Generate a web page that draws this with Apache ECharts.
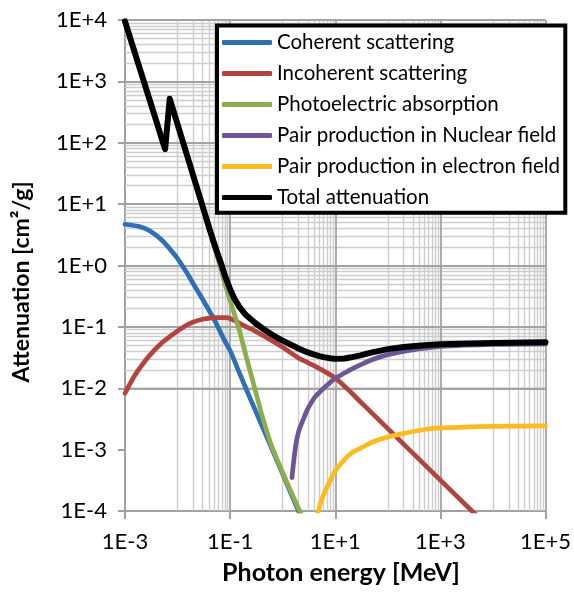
<!DOCTYPE html>
<html>
<head>
<meta charset="utf-8">
<script src="https://cdn.jsdelivr.net/npm/echarts@6/dist/echarts.min.js"></script>
<style>
  html, body { margin: 0; padding: 0; background: #fff; }
  #chart { width: 574px; height: 593px; }
</style>
</head>
<body>
<div id="chart"></div>
<script>
// Mass attenuation coefficients (cm²/g) versus photon energy (MeV), by interaction process.
const coherentE  = [0.001, 0.002, 0.003, 0.005, 0.008, 0.01, 0.015, 0.02, 0.03, 0.05, 0.08, 0.1, 0.15, 0.2, 0.3, 0.5, 1, 2, 3];
const coherentMu = [4.7, 4.25, 3.65, 2.6, 1.65, 1.3, 0.76, 0.5, 0.28, 0.13, 0.058, 0.041, 0.0178, 0.0099, 0.0044, 0.0016, 0.0004, 0.0001, 0.000045];

const incoherentE  = [0.001, 0.0015, 0.002, 0.003, 0.005, 0.008, 0.01, 0.015, 0.02, 0.03, 0.05, 0.08, 0.1, 0.15, 0.2, 0.3, 0.5, 1, 2, 3, 5, 10, 20, 30, 50, 100, 200, 500, 1000, 2000, 5000];
const incoherentMu = [0.0083, 0.0157, 0.0225, 0.035, 0.0545, 0.0746, 0.0857, 0.107, 0.12, 0.133, 0.142, 0.141, 0.137, 0.115, 0.101, 0.0851, 0.0665, 0.0465, 0.0311, 0.0261, 0.0209, 0.0146, 0.00853, 0.00603, 0.00393, 0.0022, 0.00123, 0.00057, 0.000319, 0.000178, 0.000083];

const photoE  = [0.001, 0.002, 0.003, 0.004, 0.005, 0.0058, 0.0071, 0.008, 0.01, 0.015, 0.02, 0.03, 0.04, 0.05, 0.06, 0.08, 0.1, 0.15, 0.2, 0.3, 0.4, 0.5, 0.6, 0.8, 1, 1.5, 2, 3];
const photoMu = [9495, 1425, 470, 213, 114.5, 76.5, 517, 370, 197, 63, 28, 8.8, 3.8, 2.0, 1.2, 0.5, 0.27, 0.088, 0.034, 0.0093, 0.0037, 0.00196, 0.0012, 0.00066, 0.00042, 0.00019, 0.00011, 0.00005];

const pairNucE  = [1.5, 1.75, 2, 2.5, 3, 4, 5, 6, 8, 10, 15, 20, 30, 50, 100, 200, 500, 1000, 10000, 100000];
const pairNucMu = [0.00035, 0.0011, 0.00195, 0.0032, 0.0046, 0.007, 0.0086, 0.01, 0.0124, 0.0145, 0.0177, 0.0203, 0.0241, 0.0292, 0.0353, 0.0399, 0.0448, 0.048, 0.0517, 0.0528];

const pairElE  = [4, 5, 6, 8, 10, 15, 20, 30, 50, 100, 200, 500, 1000, 10000, 100000];
const pairElMu = [0.00005, 0.000117, 0.000184, 0.000313, 0.00045, 0.00069, 0.00087, 0.00105, 0.00132, 0.0016, 0.00184, 0.00213, 0.00226, 0.0024, 0.00244];

const totalE  = [0.001, 0.002, 0.003, 0.004, 0.005, 0.0058, 0.0071, 0.008, 0.01, 0.015, 0.02, 0.03, 0.04, 0.05, 0.06, 0.07, 0.08, 0.1, 0.12, 0.15, 0.2, 0.3, 0.4, 0.5, 0.6, 0.8, 1, 1.5, 2, 3, 4, 5, 6, 8, 10, 15, 20, 30, 50, 100, 200, 500, 1000, 10000, 100000];
const totalMu = [9500, 1430, 474, 216, 117, 79, 520, 372, 199, 64, 28.6, 9.2, 4.1, 2.25, 1.42, 0.97, 0.677, 0.411, 0.29, 0.212, 0.156, 0.1156, 0.0966, 0.0845, 0.0766, 0.0659, 0.0596, 0.0503, 0.0445, 0.0383, 0.0352, 0.0334, 0.0322, 0.0308, 0.0301, 0.0306, 0.0319, 0.0343, 0.0385, 0.0434, 0.0469, 0.05, 0.0519, 0.0548, 0.0564];

const seriesNames = [
  'Coherent scattering',
  'Incoherent scattering',
  'Photoelectric absorption',
  'Pair production in Nuclear field',
  'Pair production in electron field',
  'Total attenuation'
];
const seriesColors = ['#2f6fb5', '#b2433f', '#8cad4b', '#6c5694', '#fbbb21', '#000000'];

const xTitle = 'Photon energy [MeV]';
const yTitle = 'Attenuation [cm²/g]';

// Axis ranges (decade exponents) and tick-label style "1E+n"
const xExpMin = -3, xExpMax = 5;
const yExpMin = -4, yExpMax = 4;
const FONT = 'Lato';

function sci(v) {
  const e = Math.round(Math.log10(v));
  return '1E' + (e >= 0 ? '+' : '-') + Math.abs(e);
}
function zip(xs, ys) { return xs.map((x, i) => [x, ys[i]]); }

// Log-scale gridlines: x has a major line every two decades with 1..9 minor lines
// in the intervening decade; y has a major line every decade with 2..9 minors.
const majorLines = [], minorLines = [];
for (let e = xExpMin + 2; e <= xExpMax; e += 2) majorLines.push({ xAxis: Math.pow(10, e) });
for (let e = xExpMin; e < xExpMax; e += 2) {
  for (let k = 1; k <= 9; k++) minorLines.push({ xAxis: k * Math.pow(10, e + 1) });
}
for (let e = yExpMin + 1; e <= yExpMax; e++) majorLines.push({ yAxis: Math.pow(10, e) });
for (let e = yExpMin; e < yExpMax; e++) {
  for (let k = 2; k <= 9; k++) minorLines.push({ yAxis: k * Math.pow(10, e) });
}

function gridSeries(lines, color, width, z) {
  return {
    type: 'line', data: [], silent: true, z: z,
    markLine: {
      silent: true, symbol: ['none', 'none'], label: { show: false },
      animation: false, z: z,
      lineStyle: { color: color, width: width, type: 'solid' },
      emphasis: { disabled: true },
      data: lines
    }
  };
}

const datasets = [
  zip(coherentE, coherentMu),
  zip(incoherentE, incoherentMu),
  zip(photoE, photoMu),
  zip(pairNucE, pairNucMu),
  zip(pairElE, pairElMu),
  zip(totalE, totalMu)
];
const smoothness = [0.3, 0.3, 0, 0.3, 0.3, 0];

const dataSeries = datasets.map((d, i) => ({
  name: seriesNames[i],
  type: 'line',
  data: d,
  showSymbol: false,
  symbol: 'none',
  smooth: smoothness[i],
  clip: true,
  z: 10 + i,
  lineStyle: { color: seriesColors[i], width: i === 5 ? 6 : 4.7, cap: 'round', join: 'round' },
  itemStyle: { color: seriesColors[i] },
  emphasis: { disabled: true },
  animation: false
}));

const chart = echarts.init(document.getElementById('chart'), null, { renderer: 'canvas' });
chart.setOption({
  backgroundColor: '#ffffff',
  animation: false,
  textStyle: { fontFamily: FONT },
  grid: { left: 125, right: 25, top: 20, bottom: 82, containLabel: false },
  xAxis: {
    type: 'log', logBase: 10,
    min: Math.pow(10, xExpMin), max: Math.pow(10, xExpMax),
    interval: 2,
    axisLine: { lineStyle: { color: '#a0a0a0', width: 2 } },
    axisTick: { show: true, length: 8, lineStyle: { color: '#a0a0a0', width: 2 } },
    axisLabel: { formatter: sci, fontFamily: FONT, fontSize: 22, color: '#000', margin: 20 },
    splitLine: { show: false }
  },
  yAxis: {
    type: 'log', logBase: 10,
    min: Math.pow(10, yExpMin), max: Math.pow(10, yExpMax),
    interval: 1,
    axisLine: { lineStyle: { color: '#a0a0a0', width: 2 } },
    axisTick: { show: true, length: 7, lineStyle: { color: '#a0a0a0', width: 2 } },
    axisLabel: { formatter: sci, fontFamily: FONT, fontSize: 22, color: '#000', margin: 18 },
    splitLine: { show: false }
  },
  legend: {
    data: seriesNames,
    orient: 'vertical',
    left: 222, top: 32,
    padding: 0,
    icon: 'roundRect',
    itemWidth: 50, itemHeight: 5, itemGap: 10,
    z: 30,
    selectedMode: false,
    textStyle: { fontFamily: FONT, fontSize: 20.5, lineHeight: 20, color: '#000' }
  },
  graphic: [
    {
      type: 'rect', z: 20, silent: true,
      shape: { x: 217, y: 25.5, width: 348.3, height: 187.3 },
      style: { fill: '#ffffff', stroke: '#000000', lineWidth: 4 }
    },
    {
      type: 'text', z: 20, silent: true, x: 341, y: 573,
      style: { text: xTitle, fill: '#000', font: 'bold 25px ' + FONT, align: 'center', verticalAlign: 'middle' }
    },
    {
      type: 'text', z: 20, silent: true, x: 22, y: 282, rotation: Math.PI / 2,
      style: { text: yTitle, fill: '#000', font: 'bold 23px ' + FONT, align: 'center', verticalAlign: 'middle' }
    }
  ],
  series: [
    gridSeries(minorLines, '#cdcdcd', 1.4, 1),
    gridSeries(majorLines, '#a3a3a3', 1.8, 2)
  ].concat(dataSeries)
});
</script>
</body>
</html>
